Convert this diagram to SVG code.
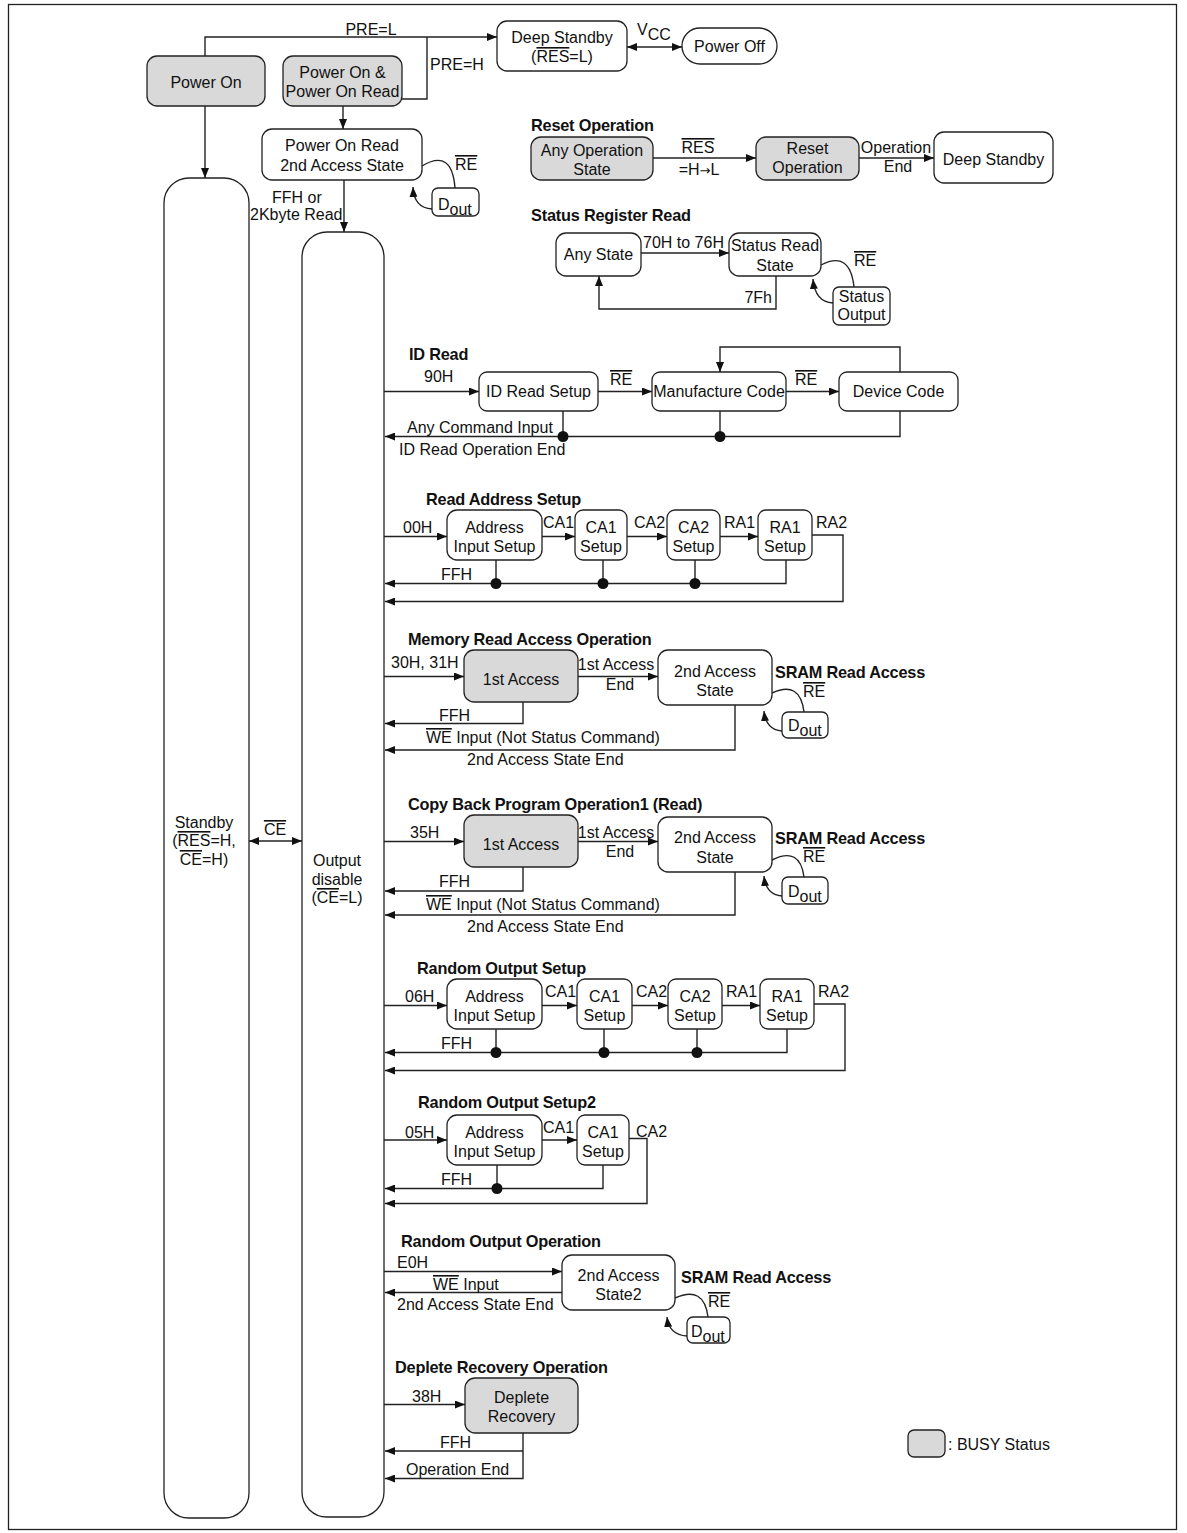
<svg xmlns="http://www.w3.org/2000/svg" width="1187" height="1533" viewBox="0 0 1187 1533">
<defs>
<style>
.bx{fill:#fff;stroke:#222;stroke-width:1.3}
.gy{fill:#d9d9d9;stroke:#222;stroke-width:1.3}
.ln{fill:none;stroke:#222;stroke-width:1.4}
.ar{marker-end:url(#ah)}
.da{marker-start:url(#ah);marker-end:url(#ah)}
text{font-family:"Liberation Sans",Arial,sans-serif;font-size:16px;fill:#111}
.c{text-anchor:middle}
.e{text-anchor:end}
.h{font-weight:bold;font-size:16.3px;letter-spacing:-0.2px}
.ov{text-decoration:overline}
.dot{fill:#111}
</style>
<marker id="ah" viewBox="0 0 10 8" refX="10" refY="4" markerWidth="10" markerHeight="8" markerUnits="userSpaceOnUse" orient="auto-start-reverse"><path d="M0,0 L10,4 L0,8 z" fill="#111"/></marker>
</defs>
<rect x="8.5" y="4.5" width="1168" height="1525" fill="#fff" stroke="#222" stroke-width="1.3"/>

<!-- Top -->
<g id="power-on"><rect class="gy" x="147" y="56" width="118" height="50" rx="10"/><text class="c" x="206" y="88">Power On</text></g>
<g id="power-on-read"><rect class="gy" x="283" y="56" width="119" height="50" rx="10"/><text class="c" x="342.5" y="78">Power On &amp;</text><text class="c" x="342.5" y="97">Power On Read</text></g>
<g id="deep-standby-top"><rect class="bx" x="497" y="21" width="130" height="50" rx="10"/><text class="c" x="562" y="43">Deep Standby</text><text class="c" x="562" y="62">(<tspan class="ov">RES</tspan>=L)</text></g>
<g id="power-off"><rect class="bx" x="682" y="28" width="95" height="36" rx="18"/><text class="c" x="729.5" y="52">Power Off</text></g>
<g id="por-2nd"><rect class="bx" x="262" y="129" width="160" height="51" rx="10"/><text class="c" x="342" y="151">Power On Read</text><text class="c" x="342" y="171">2nd Access State</text></g>
<g id="dout-por"><rect class="bx" x="432" y="188" width="47" height="28" rx="6"/><text x="438" y="210">D<tspan dy="5">out</tspan></text></g>
<g id="standby"><rect class="bx" x="164" y="178" width="85" height="1340" rx="25"/><text class="c" x="204" y="828">Standby</text><text class="c" x="204" y="846">(<tspan class="ov">RES</tspan>=H,</text><text class="c" x="204" y="865"><tspan class="ov">CE</tspan>=H)</text></g>
<g id="output-disable"><rect class="bx" x="302" y="232" width="82" height="1285" rx="25"/><text class="c" x="337" y="866">Output</text><text class="c" x="337" y="885">disable</text><text class="c" x="337" y="903">(<tspan class="ov">CE</tspan>=L)</text></g>

<!-- Reset Operation -->
<text class="h" x="531" y="131">Reset Operation</text>
<g id="any-op-state"><rect class="gy" x="531" y="137" width="122" height="43" rx="10"/><text class="c" x="592" y="156">Any Operation</text><text class="c" x="592" y="175">State</text></g>
<g id="reset-op"><rect class="gy" x="756" y="137" width="103" height="43" rx="10"/><text class="c" x="807.5" y="154">Reset</text><text class="c" x="807.5" y="173">Operation</text></g>
<g id="deep-standby-reset"><rect class="bx" x="934" y="132" width="119" height="51" rx="10"/><text class="c" x="993.5" y="165">Deep Standby</text></g>

<!-- Status Register Read -->
<text class="h" x="531" y="221">Status Register Read</text>
<g id="any-state"><rect class="bx" x="556" y="233" width="85" height="43" rx="10"/><text class="c" x="598.5" y="260">Any State</text></g>
<g id="status-read-state"><rect class="bx" x="729" y="233" width="92" height="43" rx="10"/><text class="c" x="775" y="251">Status Read</text><text class="c" x="775" y="271">State</text></g>
<g id="status-output"><rect class="bx" x="833" y="287" width="57" height="38" rx="6"/><text class="c" x="861.5" y="302">Status</text><text class="c" x="861.5" y="320">Output</text></g>

<!-- ID Read -->
<text class="h" x="409" y="360">ID Read</text>
<g id="id-read-setup"><rect class="bx" x="479" y="372" width="119" height="39" rx="8"/><text class="c" x="538.5" y="397">ID Read Setup</text></g>
<g id="manufacture-code"><rect class="bx" x="652" y="372" width="134" height="39" rx="8"/><text class="c" x="719" y="397">Manufacture Code</text></g>
<g id="device-code"><rect class="bx" x="839" y="372" width="119" height="39" rx="8"/><text class="c" x="898.5" y="397">Device Code</text></g>

<!-- Read Address Setup -->
<text class="h" x="426" y="505">Read Address Setup</text>
<g id="ras-addr"><rect class="bx" x="447" y="510" width="95" height="50" rx="10"/><text class="c" x="494.5" y="533">Address</text><text class="c" x="494.5" y="552">Input Setup</text></g>
<g id="ras-ca1"><rect class="bx" x="575" y="510" width="52" height="50" rx="8"/><text class="c" x="601" y="533">CA1</text><text class="c" x="601" y="552">Setup</text></g>
<g id="ras-ca2"><rect class="bx" x="667" y="510" width="53" height="50" rx="8"/><text class="c" x="693.5" y="533">CA2</text><text class="c" x="693.5" y="552">Setup</text></g>
<g id="ras-ra1"><rect class="bx" x="758" y="510" width="54" height="50" rx="8"/><text class="c" x="785" y="533">RA1</text><text class="c" x="785" y="552">Setup</text></g>

<!-- Memory Read Access Operation -->
<text class="h" x="408" y="645">Memory Read Access Operation</text>
<g id="mr-1st"><rect class="gy" x="464" y="650" width="114" height="52" rx="10"/><text class="c" x="521" y="685">1st Access</text></g>
<g id="mr-2nd"><rect class="bx" x="658" y="650" width="114" height="55" rx="10"/><text class="c" x="715" y="677">2nd Access</text><text class="c" x="715" y="696">State</text></g>
<g id="mr-dout"><rect class="bx" x="782" y="712" width="46" height="26" rx="6"/><text x="788" y="731">D<tspan dy="5">out</tspan></text></g>

<!-- Copy Back -->
<text class="h" x="408" y="810">Copy Back Program Operation1 (Read)</text>
<g id="cb-1st"><rect class="gy" x="464" y="815" width="114" height="52" rx="10"/><text class="c" x="521" y="850">1st Access</text></g>
<g id="cb-2nd"><rect class="bx" x="658" y="817" width="114" height="55" rx="10"/><text class="c" x="715" y="843">2nd Access</text><text class="c" x="715" y="863">State</text></g>
<g id="cb-dout"><rect class="bx" x="782" y="877" width="46" height="27" rx="6"/><text x="788" y="897">D<tspan dy="5">out</tspan></text></g>

<!-- Random Output Setup -->
<text class="h" x="417" y="974">Random Output Setup</text>
<g id="ros-addr"><rect class="bx" x="447" y="979" width="95" height="50" rx="10"/><text class="c" x="494.5" y="1002">Address</text><text class="c" x="494.5" y="1021">Input Setup</text></g>
<g id="ros-ca1"><rect class="bx" x="577" y="979" width="55" height="50" rx="8"/><text class="c" x="604.5" y="1002">CA1</text><text class="c" x="604.5" y="1021">Setup</text></g>
<g id="ros-ca2"><rect class="bx" x="668" y="979" width="54" height="50" rx="8"/><text class="c" x="695" y="1002">CA2</text><text class="c" x="695" y="1021">Setup</text></g>
<g id="ros-ra1"><rect class="bx" x="760" y="979" width="54" height="50" rx="8"/><text class="c" x="787" y="1002">RA1</text><text class="c" x="787" y="1021">Setup</text></g>

<!-- Random Output Setup2 -->
<text class="h" x="418" y="1108">Random Output Setup2</text>
<g id="ros2-addr"><rect class="bx" x="447" y="1115" width="95" height="50" rx="10"/><text class="c" x="494.5" y="1138">Address</text><text class="c" x="494.5" y="1157">Input Setup</text></g>
<g id="ros2-ca1"><rect class="bx" x="577" y="1115" width="52" height="50" rx="8"/><text class="c" x="603" y="1138">CA1</text><text class="c" x="603" y="1157">Setup</text></g>

<!-- Random Output Operation -->
<text class="h" x="401" y="1247">Random Output Operation</text>
<g id="roo-2nd"><rect class="bx" x="562" y="1255" width="113" height="55" rx="10"/><text class="c" x="618.5" y="1281">2nd Access</text><text class="c" x="618.5" y="1300">State2</text></g>
<g id="roo-dout"><rect class="bx" x="687" y="1317" width="43" height="26" rx="6"/><text x="691" y="1337">D<tspan dy="5">out</tspan></text></g>

<!-- Deplete Recovery -->
<text class="h" x="395" y="1373">Deplete Recovery Operation</text>
<g id="deplete"><rect class="gy" x="465" y="1378" width="113" height="55" rx="10"/><text class="c" x="521.5" y="1403">Deplete</text><text class="c" x="521.5" y="1422">Recovery</text></g>

<!-- Legend -->
<g id="legend"><rect class="gy" x="908" y="1430" width="37" height="27" rx="6"/><text x="948" y="1450">: BUSY Status</text></g>

<!-- Connectors -->
<g id="connectors">
<path class="ln ar" d="M205,56 V37 H497"/>
<path class="ln" d="M402,99 H427 V37"/>
<path class="ln da" d="M627,47 H682"/>
<path class="ln ar" d="M205,106 V178"/>
<path class="ln ar" d="M343,106 V129"/>
<path class="ln ar" d="M344,180 V232"/>
<path class="ln" d="M422,166 Q452,148 455,188"/>
<path class="ln ar" d="M432,209 Q414,208 413,187"/>
<path class="ln da" d="M249,841 H302"/>

<path class="ln ar" d="M653,158 H756"/>
<path class="ln ar" d="M859,158 H934"/>
<path class="ln ar" d="M641,253 H729"/>
<path class="ln ar" d="M776,276 V309 H599 V276"/>
<path class="ln" d="M821,265 Q850,250 854,287"/>
<path class="ln ar" d="M833,303 Q815,302 813,279"/>

<path class="ln ar" d="M384,391.5 H479"/>
<path class="ln ar" d="M598,391.5 H652"/>
<path class="ln ar" d="M786,391.5 H839"/>
<path class="ln ar" d="M900,372 V347 H720 V372"/>
<path class="ln ar" d="M900,411 V436.5 H385"/>
<path class="ln" d="M563,411 V436.5"/>
<path class="ln" d="M720,411 V436.5"/>
<circle class="dot" cx="563" cy="436.5" r="5.5"/>
<circle class="dot" cx="720" cy="436.5" r="5.5"/>

<path class="ln ar" d="M384,536.5 H447"/>
<path class="ln ar" d="M542,536.5 H575"/>
<path class="ln ar" d="M627,536.5 H667"/>
<path class="ln ar" d="M720,536.5 H758"/>
<path class="ln ar" d="M812,535 H843 V601.5 H385"/>
<path class="ln ar" d="M786,560 V583.5 H385"/>
<path class="ln" d="M496,560 V583.5 M603,560 V583.5 M695,560 V583.5"/>
<circle class="dot" cx="496" cy="583.5" r="5.5"/>
<circle class="dot" cx="603" cy="583.5" r="5.5"/>
<circle class="dot" cx="695" cy="583.5" r="5.5"/>

<path class="ln ar" d="M384,676.5 H464"/>
<path class="ln ar" d="M578,676.5 H658"/>
<path class="ln ar" d="M523,702 V723.5 H385"/>
<path class="ln ar" d="M735,705 V750 H385"/>
<path class="ln" d="M772,693 Q800,680 804,712"/>
<path class="ln ar" d="M782,731 Q766,730 764,711"/>

<path class="ln ar" d="M384,841.5 H464"/>
<path class="ln ar" d="M578,841.5 H658"/>
<path class="ln ar" d="M523,867 V891 H385"/>
<path class="ln ar" d="M735,872 V915 H385"/>
<path class="ln" d="M772,860 Q800,846 804,877"/>
<path class="ln ar" d="M782,896 Q766,895 764,876"/>

<path class="ln ar" d="M384,1005.5 H447"/>
<path class="ln ar" d="M542,1005.5 H577"/>
<path class="ln ar" d="M632,1005.5 H668"/>
<path class="ln ar" d="M722,1005.5 H760"/>
<path class="ln ar" d="M814,1004 H845 V1070.5 H385"/>
<path class="ln ar" d="M787,1029 V1052.5 H385"/>
<path class="ln" d="M496,1029 V1052.5 M604,1029 V1052.5 M697,1029 V1052.5"/>
<circle class="dot" cx="496" cy="1052.5" r="5.5"/>
<circle class="dot" cx="604" cy="1052.5" r="5.5"/>
<circle class="dot" cx="697" cy="1052.5" r="5.5"/>

<path class="ln ar" d="M384,1140 H447"/>
<path class="ln ar" d="M542,1140 H577"/>
<path class="ln ar" d="M629,1138.5 H647 V1203.5 H385"/>
<path class="ln ar" d="M603,1165 V1188.5 H385"/>
<path class="ln" d="M497,1165 V1188.5"/>
<circle class="dot" cx="497" cy="1188.5" r="5.5"/>

<path class="ln ar" d="M384,1271.5 H562"/>
<path class="ln ar" d="M562,1292.5 H385"/>
<path class="ln" d="M675,1298 Q704,1285 708,1317"/>
<path class="ln ar" d="M687,1336 Q669,1335 667,1317"/>

<path class="ln ar" d="M384,1404.5 H465"/>
<path class="ln ar" d="M523,1433 V1478.5 H385"/>
<path class="ln ar" d="M523,1451 H385"/>
</g>

<!-- Connector labels -->
<g id="labels">
<text class="c" x="371" y="35">PRE=L</text>
<text x="430" y="70">PRE=H</text>
<text x="637" y="35">V<tspan dy="5">CC</tspan></text>
<text x="272" y="203">FFH or</text>
<text x="250" y="220">2Kbyte Read</text>
<text class="ov" x="455" y="170">RE</text>
<text class="ov c" x="275" y="835">CE</text>

<text class="ov c" x="698" y="153">RES</text>
<text class="c" x="699" y="175">=H<tspan font-family="DejaVu Sans" font-size="13">→</tspan>L</text>
<text class="c" x="896" y="153">Operation</text>
<text class="c" x="898" y="172">End</text>
<text x="643" y="248">70H to 76H</text>
<text class="e" x="772" y="303">7Fh</text>
<text class="ov" x="854" y="266">RE</text>

<text x="424" y="382">90H</text>
<text class="ov" x="610" y="385">RE</text>
<text class="ov" x="795" y="385">RE</text>
<text x="407" y="433">Any Command Input</text>
<text x="399" y="455">ID Read Operation End</text>

<text x="403" y="533">00H</text>
<text x="543" y="528">CA1</text>
<text x="634" y="528">CA2</text>
<text x="724" y="528">RA1</text>
<text x="816" y="528">RA2</text>
<text x="441" y="580">FFH</text>

<text x="391" y="668">30H, 31H</text>
<text class="c" x="616" y="670">1st Access</text>
<text class="c" x="620" y="690">End</text>
<text class="h" x="775" y="678">SRAM Read Access</text>
<text class="ov" x="803" y="697">RE</text>
<text x="439" y="721">FFH</text>
<text x="426" y="743"><tspan class="ov">WE</tspan> Input (Not Status Command)</text>
<text x="467" y="765">2nd Access State End</text>

<text x="410" y="838">35H</text>
<text class="c" x="616" y="838">1st Access</text>
<text class="c" x="620" y="857">End</text>
<text class="h" x="775" y="844">SRAM Read Access</text>
<text class="ov" x="803" y="862">RE</text>
<text x="439" y="887">FFH</text>
<text x="426" y="910"><tspan class="ov">WE</tspan> Input (Not Status Command)</text>
<text x="467" y="932">2nd Access State End</text>

<text x="405" y="1002">06H</text>
<text x="545" y="997">CA1</text>
<text x="636" y="997">CA2</text>
<text x="726" y="997">RA1</text>
<text x="818" y="997">RA2</text>
<text x="441" y="1049">FFH</text>

<text x="405" y="1138">05H</text>
<text x="543" y="1133">CA1</text>
<text x="636" y="1137">CA2</text>
<text x="441" y="1185">FFH</text>

<text x="397" y="1268">E0H</text>
<text x="433" y="1290"><tspan class="ov">WE</tspan> Input</text>
<text x="397" y="1310">2nd Access State End</text>
<text class="h" x="681" y="1283">SRAM Read Access</text>
<text class="ov" x="708" y="1307">RE</text>

<text x="412" y="1402">38H</text>
<text x="440" y="1448">FFH</text>
<text x="406" y="1475">Operation End</text>
</g>
</svg>
